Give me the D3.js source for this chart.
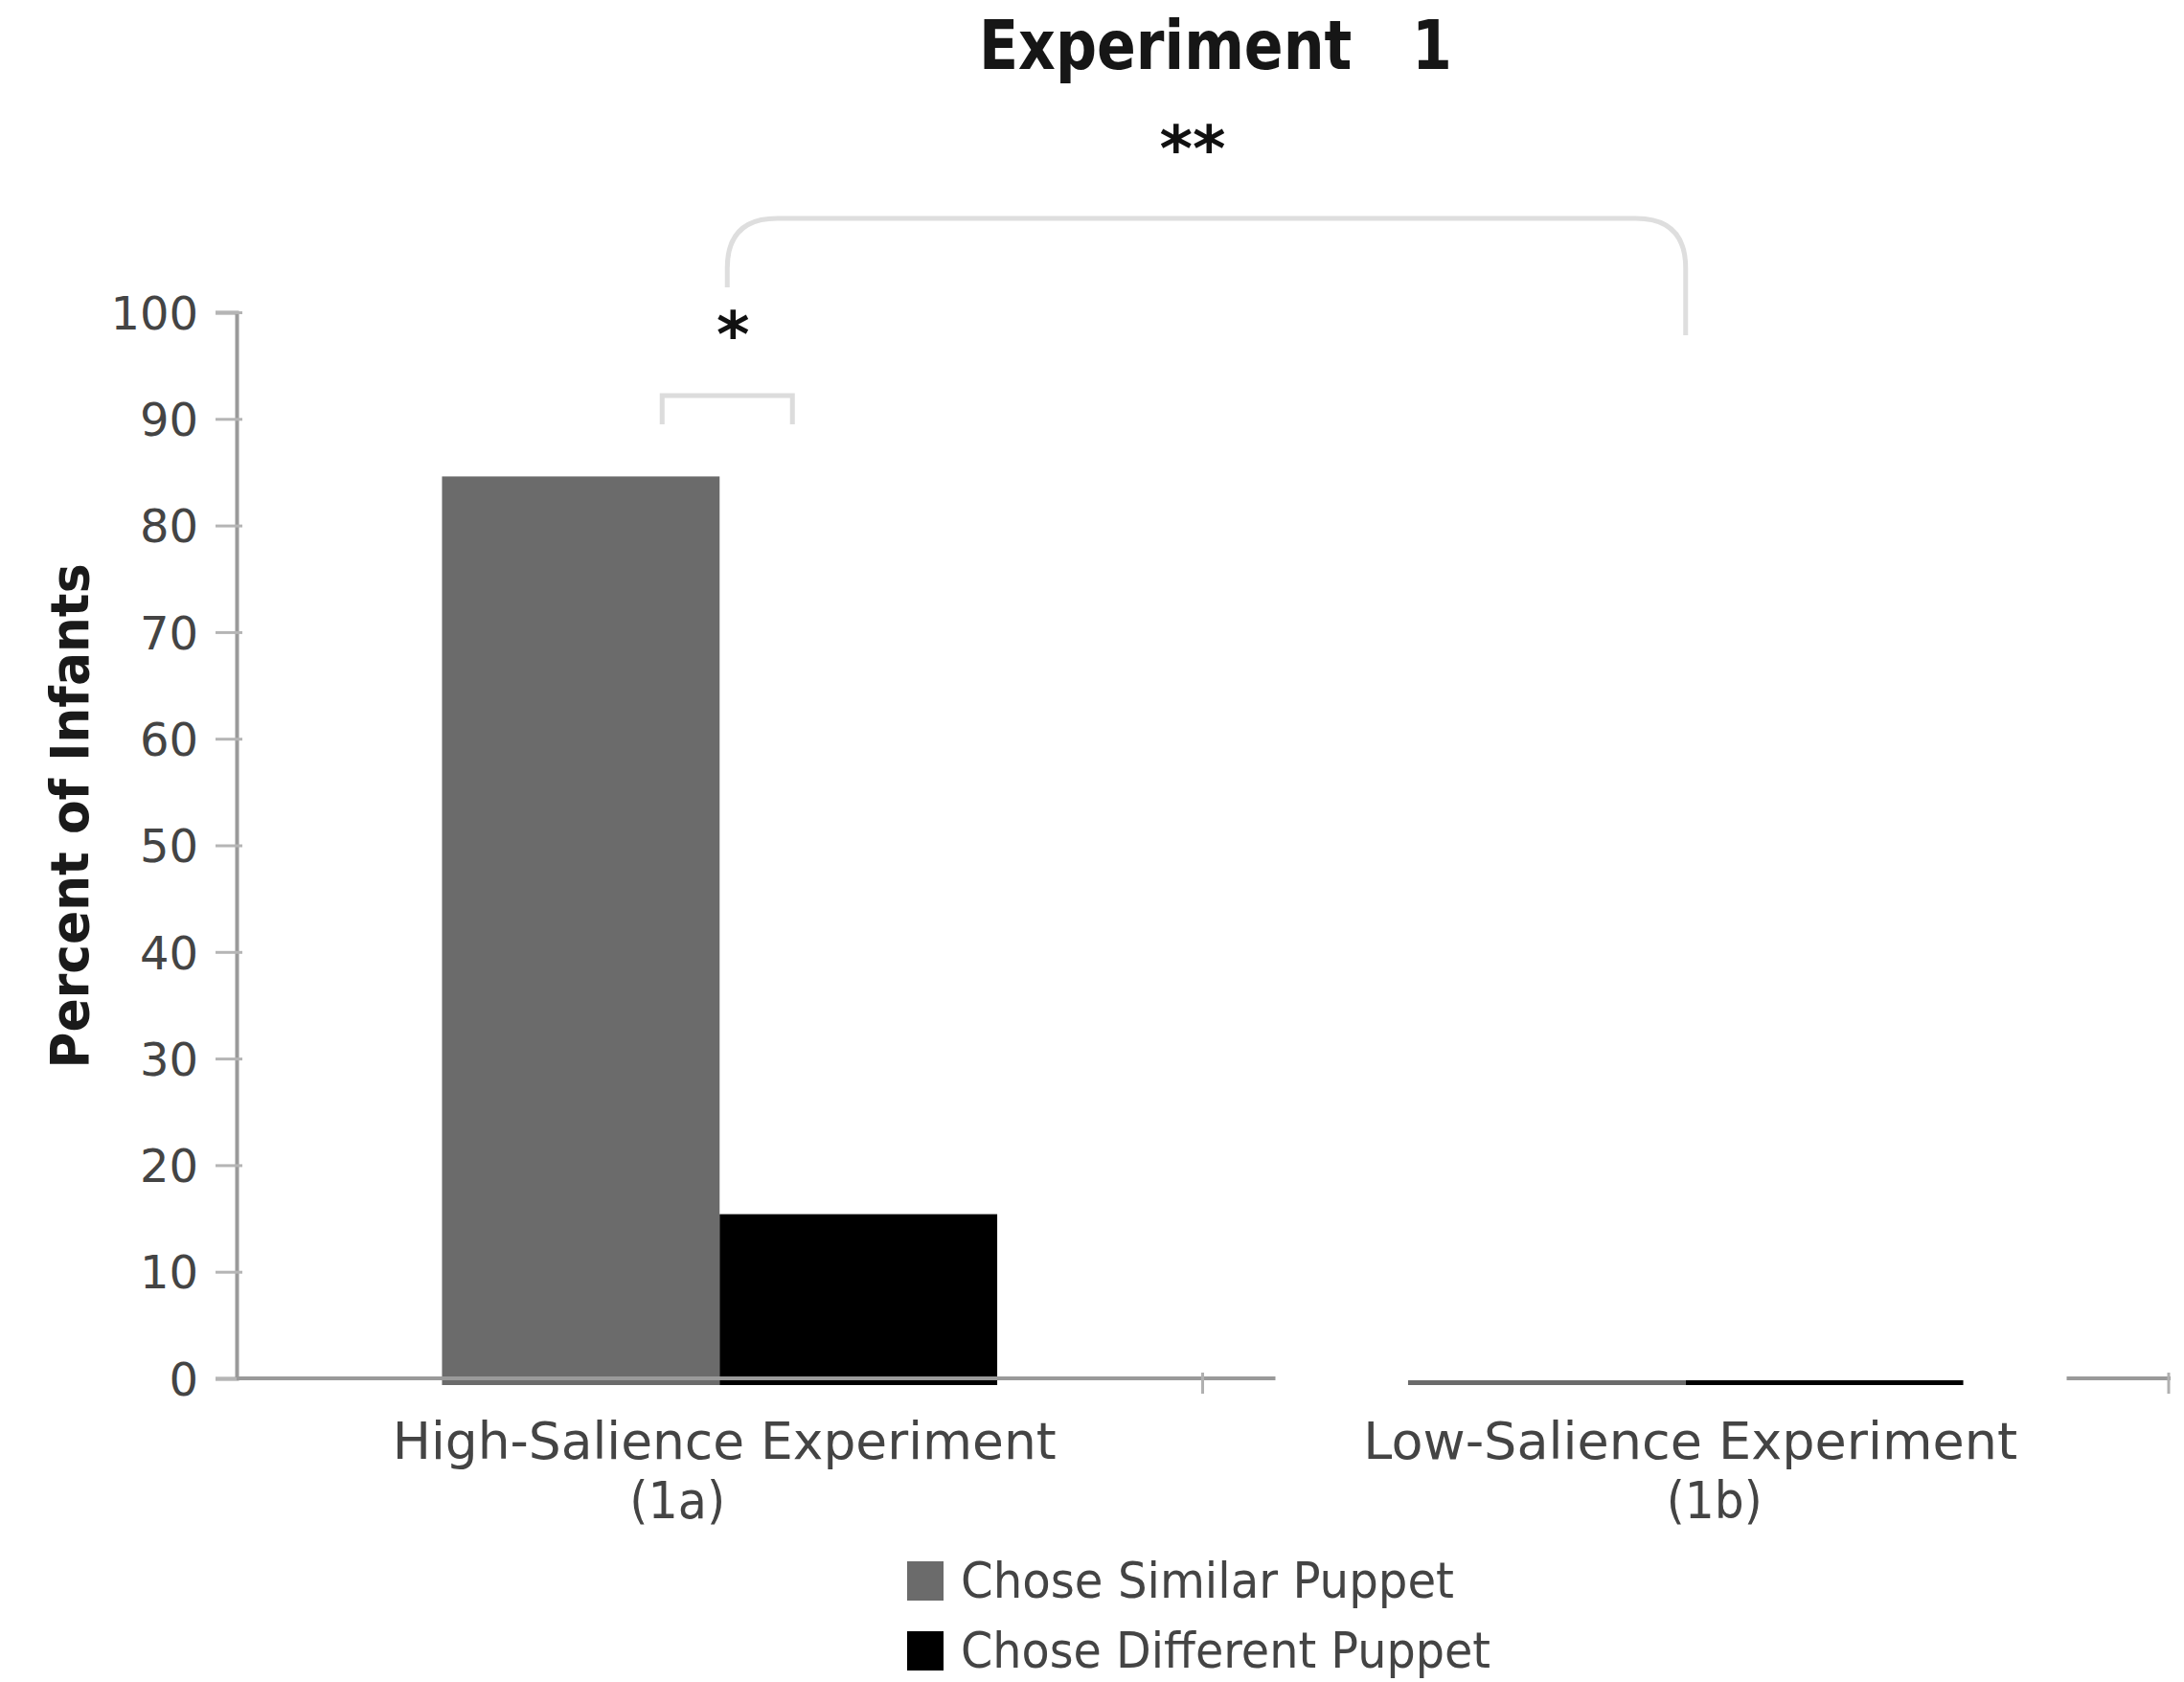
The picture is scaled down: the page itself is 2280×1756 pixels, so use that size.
<!DOCTYPE html>
<html>
<head>
<meta charset="utf-8">
<script src="https://cdn.jsdelivr.net/npm/d3@7"></script>
<style>
  html, body { margin: 0; padding: 0; background: #fff; }
  svg { display: block; }
  text { font-family: "DejaVu Sans", Verdana, sans-serif; }
</style>
</head>
<body>
<svg id="chart" width="2280" height="1756"></svg>
<script>
// Experiment 1: share of infants choosing each puppet
const categories = ["High-Salience Experiment", "Low-Salience Experiment"];
const categorySub = ["(1a)", "(1b)"];
const seriesNames = ["Chose Similar Puppet", "Chose Different Puppet"];
const similarPct = [84.6, 0];
const differentPct = [15.4, 0];
const yTicks = [0, 10, 20, 30, 40, 50, 60, 70, 80, 90, 100];
const seriesColors = ["#6b6b6b", "#000000"];

const rows = categories.map((c, i) => ({
  cat: c,
  values: [
    { s: seriesNames[0], v: similarPct[i] },
    { s: seriesNames[1], v: differentPct[i] }
  ]
}));

const svg = d3.select("#chart");
svg.append("rect").attr("width", 2280).attr("height", 1756).attr("fill", "#fff");

const x0 = d3.scaleBand().domain(categories).range([247, 2264]).paddingInner(0).paddingOuter(0);
const x1 = d3.scaleBand().domain(seriesNames).range([0, x0.bandwidth()]).paddingInner(0).paddingOuter(0.74);
const y = d3.scaleLinear().domain([0, 100]).range([1439, 326]);
const color = d3.scaleOrdinal().domain(seriesNames).range(seriesColors);

// bars (they run a few pixels past the baseline, under the axis line)
const groups = svg.append("g").selectAll("g").data(rows).join("g")
  .attr("transform", d => `translate(${x0(d.cat)},0)`);
groups.selectAll("rect").data(d => d.values).join("rect")
  .attr("x", d => x1(d.s))
  .attr("width", x1.bandwidth())
  .attr("y", d => y(d.v))
  .attr("height", d => y(0) - y(d.v) + 7)
  .attr("fill", d => color(d.s));

// y axis
const yAxis = d3.axisLeft(y).tickValues(yTicks).tickSize(22).tickPadding(18);
const gy = svg.append("g").attr("transform", "translate(247,0)").call(yAxis);
gy.select(".domain").attr("stroke", "#9a9a9a").attr("stroke-width", 4);
gy.selectAll(".tick line").attr("stroke", "#b5b5b5").attr("stroke-width", 3).attr("x2", 6).attr("x1", -22);
gy.selectAll(".tick text").attr("fill", "#444").attr("font-size", 48).attr("dy", "0.36em");

// x axis line and category ticks
const gx = svg.append("g");
gx.append("line").attr("x1", 247).attr("x2", 2266).attr("y1", y(0)).attr("y2", y(0))
  .attr("stroke", "#9a9a9a").attr("stroke-width", 4);
const boundaries = categories.map(c => x0(c) + x0.bandwidth());
gx.selectAll("line.ct").data(boundaries).join("line").attr("class", "ct")
  .attr("x1", d => d).attr("x2", d => d).attr("y1", y(0) - 6).attr("y2", y(0) + 16)
  .attr("stroke", "#b0b0b0").attr("stroke-width", 3);

// erased patch over the low-salience baseline
const b2 = x0(categories[1]);
svg.append("rect")
  .attr("x", b2 + 76).attr("width", 826)
  .attr("y", y(20)).attr("height", y(0) - y(20) + 2)
  .attr("fill", "#fff");

// category labels
const lblWidths = [693, 683];
const subShift = [-44, 30];
const gl = svg.append("g").attr("fill", "#444").attr("font-size", 54).attr("text-anchor", "middle");
gl.selectAll("text.c1").data(categories).join("text").attr("class", "c1")
  .attr("x", d => x0(d) + x0.bandwidth() / 2 + 5)
  .attr("y", 1523)
  .attr("textLength", (d, i) => lblWidths[i]).attr("lengthAdjust", "spacingAndGlyphs")
  .text(d => d);
gl.selectAll("text.c2").data(categorySub).join("text").attr("class", "c2")
  .attr("x", (d, i) => x0(categories[i]) + x0.bandwidth() / 2 + subShift[i])
  .attr("y", 1585)
  .attr("textLength", 100).attr("lengthAdjust", "spacingAndGlyphs")
  .text(d => d);

// y axis title
svg.append("text")
  .attr("transform", "translate(92,852) rotate(-90)")
  .attr("text-anchor", "middle").attr("font-weight", "bold").attr("font-size", 56)
  .attr("fill", "#1a1a1a")
  .attr("textLength", 527).attr("lengthAdjust", "spacingAndGlyphs")
  .text("Percent of Infants");

// chart title
svg.append("text").attr("x", 1022).attr("y", 72).attr("font-weight", "bold")
  .attr("font-size", 72).attr("fill", "#161616")
  .style("white-space", "pre").attr("xml:space", "preserve")
  .attr("textLength", 494).attr("lengthAdjust", "spacingAndGlyphs")
  .text("Experiment   1");

// significance brackets
const mid1 = x0(categories[0]) + x0.bandwidth() / 2 + 8;
const mid2 = x0(categories[1]) + x0.bandwidth() / 2;
const big = d3.path();
big.moveTo(mid1, 300);
big.lineTo(mid1, 280);
big.quadraticCurveTo(mid1, 228, mid1 + 52, 228);
big.lineTo(mid2 - 52, 228);
big.quadraticCurveTo(mid2, 228, mid2, 280);
big.lineTo(mid2, 350);
svg.append("path").attr("d", big.toString())
  .attr("fill", "none").attr("stroke", "#dedede").attr("stroke-width", 5);

const small = d3.path();
small.moveTo(mid1 - 68, 443);
small.lineTo(mid1 - 68, 413);
small.lineTo(mid1 + 68, 413);
small.lineTo(mid1 + 68, 443);
svg.append("path").attr("d", small.toString())
  .attr("fill", "none").attr("stroke", "#dcdcdc").attr("stroke-width", 5);

svg.append("text").attr("x", mid1 + 6).attr("y", 372).attr("text-anchor", "middle")
  .attr("font-weight", "bold").attr("font-size", 66).attr("fill", "#111").text("*");
svg.append("text").attr("x", 1245).attr("y", 178).attr("text-anchor", "middle")
  .attr("font-weight", "bold").attr("font-size", 66).attr("fill", "#111").text("**");

// legend
const legTop = [1630, 1703];
const legW = [515, 553];
const leg = svg.append("g").selectAll("g").data(seriesNames).join("g")
  .attr("transform", (d, i) => `translate(947,${legTop[i]})`);
leg.append("rect").attr("width", 38).attr("height", 41).attr("fill", d => color(d));
leg.append("text").attr("x", 56).attr("y", 38).attr("font-size", 52).attr("fill", "#444")
  .attr("textLength", (d, i) => legW[i]).attr("lengthAdjust", "spacingAndGlyphs")
  .text(d => d);
</script>
</body>
</html>
